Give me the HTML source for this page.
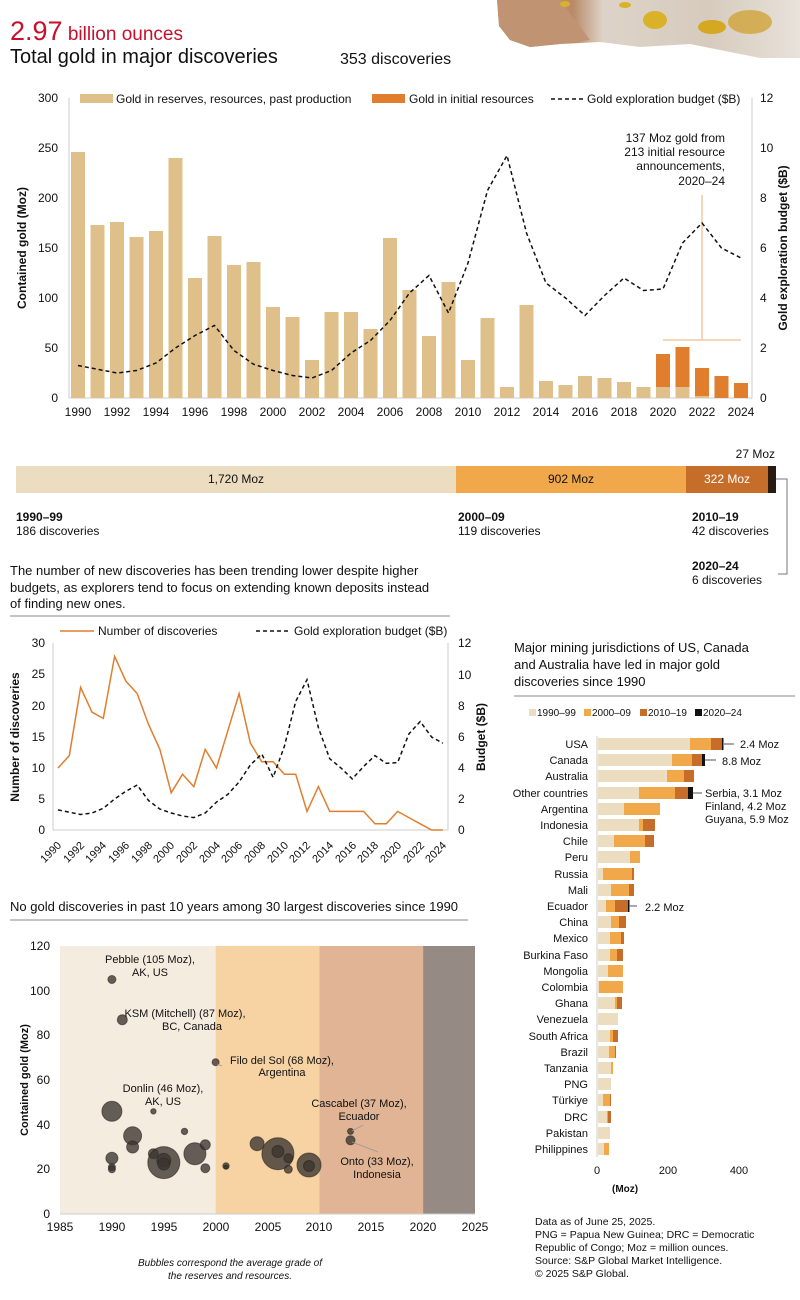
<!DOCTYPE html>
<html><head><meta charset="utf-8"><style>
body{margin:0;background:#fff}
svg{display:block;font-family:"Liberation Sans",sans-serif}
</style></head><body>
<svg width="800" height="1300" viewBox="0 0 800 1300" xmlns="http://www.w3.org/2000/svg">
<defs>
<linearGradient id="rk" x1="0" x2="1" y1="0" y2="0"><stop offset="0" stop-color="#c79d7a"/><stop offset="0.25" stop-color="#b98a68"/><stop offset="0.35" stop-color="#ddd3c8"/><stop offset="0.7" stop-color="#d6cbbd"/><stop offset="1" stop-color="#e8e2da"/></linearGradient>
</defs>
<!-- rock -->
<path d="M497 0 L800 0 L800 58 L760 58 L720 50 L690 44 L640 47 L600 42 L560 44 L530 47 L510 40 L499 26 Z" fill="url(#rk)"/>
<path d="M497 0 L560 0 L590 40 L560 44 L530 47 L510 40 L499 26Z" fill="#c09372"/>
<ellipse cx="655" cy="20" rx="12" ry="9" fill="#d9b22a"/>
<ellipse cx="712" cy="27" rx="14" ry="7" fill="#d4a820"/>
<ellipse cx="750" cy="22" rx="22" ry="12" fill="#cfa43a" opacity="0.8"/>
<ellipse cx="565" cy="4" rx="5" ry="3" fill="#d9b22a"/>
<ellipse cx="625" cy="5" rx="6" ry="3" fill="#d9b22a"/>
<!-- title -->
<text x="10" y="40" fill="#c8102e" font-size="27">2.97<tspan font-size="19"> billion ounces</tspan></text>
<text x="10" y="63" font-size="20" fill="#111">Total gold in major discoveries</text>
<text x="340" y="64" font-size="16" fill="#111">353 discoveries</text>

<!-- Chart 1 -->
<g font-size="12" fill="#111">
<line x1="69" y1="98" x2="69" y2="398" stroke="#ccc"/>
<line x1="752" y1="98" x2="752" y2="398" stroke="#ccc"/>
<line x1="69" y1="398" x2="752" y2="398" stroke="#ccc"/>
<g text-anchor="end"><text x="58" y="102">300</text><text x="58" y="152">250</text><text x="58" y="202">200</text><text x="58" y="252">150</text><text x="58" y="302">100</text><text x="58" y="352">50</text><text x="58" y="402">0</text></g>
<g><text x="760" y="102">12</text><text x="760" y="152">10</text><text x="760" y="202">8</text><text x="760" y="252">6</text><text x="760" y="302">4</text><text x="760" y="352">2</text><text x="760" y="402">0</text></g>
<text transform="translate(26,248) rotate(-90)" text-anchor="middle" font-weight="bold" font-size="12">Contained gold (Moz)</text>
<text transform="translate(787,248) rotate(-90)" text-anchor="middle" font-weight="bold" font-size="12">Gold exploration budget ($B)</text>
<g text-anchor="middle"><text x="78" y="416">1990</text><text x="117" y="416">1992</text><text x="156" y="416">1994</text><text x="195" y="416">1996</text><text x="234" y="416">1998</text><text x="273" y="416">2000</text><text x="312" y="416">2002</text><text x="351" y="416">2004</text><text x="390" y="416">2006</text><text x="429" y="416">2008</text><text x="468" y="416">2010</text><text x="507" y="416">2012</text><text x="546" y="416">2014</text><text x="585" y="416">2016</text><text x="624" y="416">2018</text><text x="663" y="416">2020</text><text x="702" y="416">2022</text><text x="741" y="416">2024</text></g>
</g>
<g fill="#dfc08a">
<rect x="71" y="152" width="14" height="246"/><rect x="90.5" y="225" width="14" height="173"/><rect x="110" y="222" width="14" height="176"/><rect x="129.5" y="237" width="14" height="161"/><rect x="149" y="231" width="14" height="167"/><rect x="168.5" y="158" width="14" height="240"/><rect x="188" y="278" width="14" height="120"/><rect x="207.5" y="236" width="14" height="162"/><rect x="227" y="265" width="14" height="133"/><rect x="246.5" y="262" width="14" height="136"/><rect x="266" y="307" width="14" height="91"/><rect x="285.5" y="317" width="14" height="81"/><rect x="305" y="360" width="14" height="38"/><rect x="324.5" y="312" width="14" height="86"/><rect x="344" y="312" width="14" height="86"/><rect x="363.5" y="329" width="14" height="69"/><rect x="383" y="238" width="14" height="160"/><rect x="402.5" y="290" width="14" height="108"/><rect x="422" y="336" width="14" height="62"/><rect x="441.5" y="282" width="14" height="116"/><rect x="461" y="360" width="14" height="38"/><rect x="480.5" y="318" width="14" height="80"/><rect x="500" y="387" width="14" height="11"/><rect x="519.5" y="305" width="14" height="93"/><rect x="539" y="381" width="14" height="17"/><rect x="558.5" y="385" width="14" height="13"/><rect x="578" y="376" width="14" height="22"/><rect x="597.5" y="378" width="14" height="20"/><rect x="617" y="382" width="14" height="16"/><rect x="636.5" y="387" width="14" height="11"/><rect x="656" y="387" width="14" height="11"/><rect x="675.5" y="387" width="14" height="11"/><rect x="695" y="396" width="14" height="2"/>
</g>
<g fill="#e07e2e">
<rect x="656" y="354" width="14" height="33"/><rect x="675.5" y="347" width="14" height="40"/><rect x="695" y="368" width="14" height="28"/><rect x="714.5" y="376" width="14" height="22"/><rect x="734" y="383" width="14" height="15"/>
</g>
<line x1="702" y1="195" x2="702" y2="340" stroke="#f3c9a0" stroke-width="1.5"/>
<line x1="663" y1="340" x2="741" y2="340" stroke="#f3c9a0" stroke-width="1.5"/>
<g font-size="12" text-anchor="end" fill="#111"><text x="725" y="142">137 Moz gold from</text><text x="725" y="156">213 initial resource</text><text x="725" y="170">announcements,</text><text x="725" y="185">2020–24</text></g>
<polyline fill="none" stroke="#111" stroke-width="1.5" stroke-dasharray="4,3" points="78,365.5 97.5,369.25 117,373 136.5,370.5 156,363 175.5,348 195,335.5 214.5,325.5 234,350.5 253.5,364.25 273,370.5 292.5,375.5 312,378 331.5,370.5 351,353 370.5,340.5 390,320.5 409.5,293 429,275.5 448.5,313 468,263 487.5,190.5 507,155.5 526.5,233 546,283 565.5,298 585,315.5 604.5,295.5 624,278 643.5,290.5 663,289 682.5,243 702,223 721.5,248 741,258"/>
<g font-size="12" fill="#111">
<rect x="80" y="94" width="33" height="9" fill="#dfc08a"/><text x="116" y="103">Gold in reserves, resources, past production</text>
<rect x="372" y="94" width="33" height="9" fill="#e07e2e"/><text x="409" y="103">Gold in initial resources</text>
<line x1="551" y1="99" x2="583" y2="99" stroke="#111" stroke-width="1.5" stroke-dasharray="4,3"/><text x="587" y="103">Gold exploration budget ($B)</text>
</g>

<!-- Horizontal stacked bar -->
<rect x="16" y="466" width="440" height="27" fill="#ecdcc0"/>
<rect x="456" y="466" width="230" height="27" fill="#f0a84a"/>
<rect x="686" y="466" width="82" height="27" fill="#c66d2a"/>
<rect x="768" y="466" width="8" height="27" fill="#2a1a10"/>
<g font-size="12" fill="#111">
<text x="236" y="483" text-anchor="middle">1,720 Moz</text>
<text x="571" y="483" text-anchor="middle">902 Moz</text>
<text x="727" y="483" text-anchor="middle" fill="#fff">322 Moz</text>
<text x="775" y="458" text-anchor="end">27 Moz</text>
<text x="16" y="521" font-weight="bold">1990–99</text><text x="16" y="535">186 discoveries</text>
<text x="458" y="521" font-weight="bold">2000–09</text><text x="458" y="535">119 discoveries</text>
<text x="692" y="521" font-weight="bold">2010–19</text><text x="692" y="535">42 discoveries</text>
<text x="692" y="570" font-weight="bold">2020–24</text><text x="692" y="584">6 discoveries</text>
</g>
<polyline points="776,479 787,479 787,574 778,574" fill="none" stroke="#777"/>

<!-- Chart 2 text -->
<g font-size="13" fill="#111"><text x="10" y="575">The number of new discoveries has been trending lower despite higher</text><text x="10" y="592">budgets, as explorers tend to focus on extending known deposits instead</text><text x="10" y="608">of finding new ones.</text></g>
<line x1="10" y1="616" x2="450" y2="616" stroke="#888"/>
<!-- Chart 2 -->
<line x1="53" y1="643" x2="53" y2="830" stroke="#ccc"/>
<line x1="448" y1="643" x2="448" y2="830" stroke="#ccc"/>
<line x1="53" y1="830" x2="448" y2="830" stroke="#ccc"/>
<g font-size="12" fill="#111">
<g text-anchor="end"><text x="45" y="647">30</text><text x="45" y="678">25</text><text x="45" y="710">20</text><text x="45" y="741">15</text><text x="45" y="772">10</text><text x="45" y="803">5</text><text x="45" y="834">0</text></g>
<g><text x="458" y="647">12</text><text x="458" y="679">10</text><text x="458" y="710">8</text><text x="458" y="741">6</text><text x="458" y="772">4</text><text x="458" y="803">2</text><text x="458" y="834">0</text></g>
<text transform="translate(19,737) rotate(-90)" text-anchor="middle" font-weight="bold">Number of discoveries</text>
<text transform="translate(485,737) rotate(-90)" text-anchor="middle" font-weight="bold">Budget ($B)</text>
<g font-size="11" text-anchor="end">
<text transform="translate(62,846) rotate(-45)">1990</text><text transform="translate(85,846) rotate(-45)">1992</text><text transform="translate(107,846) rotate(-45)">1994</text><text transform="translate(130,846) rotate(-45)">1996</text><text transform="translate(153,846) rotate(-45)">1998</text><text transform="translate(175,846) rotate(-45)">2000</text><text transform="translate(198,846) rotate(-45)">2002</text><text transform="translate(221,846) rotate(-45)">2004</text><text transform="translate(243,846) rotate(-45)">2006</text><text transform="translate(266,846) rotate(-45)">2008</text><text transform="translate(289,846) rotate(-45)">2010</text><text transform="translate(311,846) rotate(-45)">2012</text><text transform="translate(334,846) rotate(-45)">2014</text><text transform="translate(357,846) rotate(-45)">2016</text><text transform="translate(379,846) rotate(-45)">2018</text><text transform="translate(402,846) rotate(-45)">2020</text><text transform="translate(425,846) rotate(-45)">2022</text><text transform="translate(447,846) rotate(-45)">2024</text>
</g>
<line x1="60" y1="631" x2="94" y2="631" stroke="#e07e2e" stroke-width="1.5"/><text x="98" y="635">Number of discoveries</text>
<line x1="256" y1="631" x2="288" y2="631" stroke="#111" stroke-width="1.5" stroke-dasharray="4,3"/><text x="294" y="635">Gold exploration budget ($B)</text>
</g>
<polyline fill="none" stroke="#e07e2e" stroke-width="1.5" points="58,768 69.3,755.6 80.6,687.4 92,712.2 103.3,718.4 114.6,656.4 125.9,681.2 137.2,693.6 148.6,724.6 159.9,749.4 171.2,792.8 182.5,774.2 193.8,786.6 205.2,749.4 216.5,768 227.8,730.8 239.1,693.6 250.4,743.2 261.8,761.8 273.1,761.8 284.4,774.2 295.7,774.2 307,811.4 318.4,786.6 329.7,811.4 341,811.4 352.3,811.4 363.6,811.4 375,823.8 386.3,823.8 397.6,811.4 408.9,817.6 420.2,823.8 431.6,830 442.9,830"/>
<polyline fill="none" stroke="#111" stroke-width="1.5" stroke-dasharray="4,3" points="58,809.9 69.3,812.2 80.6,814.5 92,813 103.3,808.3 114.6,799 125.9,791.3 137.2,785 148.6,800.6 159.9,809.1 171.2,813 182.5,816 193.8,817.6 205.2,813 216.5,802.1 227.8,794.4 239.1,782 250.4,764.9 261.8,754 273.1,777.3 284.4,746.3 295.7,701.4 307,679.7 318.4,727.7 329.7,758.7 341,768 352.3,778.9 363.6,766.5 375,755.6 386.3,763.4 397.6,762.6 408.9,733.9 420.2,721.5 431.6,737 442.9,743.2"/>

<!-- Bubble chart -->
<text x="10" y="911" font-size="13" fill="#111">No gold discoveries in past 10 years among 30 largest discoveries since 1990</text>
<line x1="10" y1="920" x2="468" y2="920" stroke="#888"/>
<rect x="60" y="946" width="155.6" height="268" fill="#f5ece0"/>
<rect x="215.6" y="946" width="103.8" height="268" fill="#f7d3a3"/>
<rect x="319.4" y="946" width="103.7" height="268" fill="#e0b494"/>
<rect x="423.1" y="946" width="51.9" height="268" fill="#958b84"/>
<line x1="60" y1="1214" x2="475" y2="1214" stroke="#ccc"/>
<g fill="#3a3430" fill-opacity="0.78" stroke="#2a2420" stroke-opacity="0.6">
<circle cx="111.9" cy="979.5" r="4"/><circle cx="122.3" cy="1019.7" r="5"/><circle cx="215.6" cy="1062.2" r="3.5"/><circle cx="153.4" cy="1111.3" r="2.7"/><circle cx="111.9" cy="1111.3" r="10"/><circle cx="184.5" cy="1131.4" r="3.2"/><circle cx="132.6" cy="1135.8" r="9"/><circle cx="132.6" cy="1147" r="6"/><circle cx="111.9" cy="1158.2" r="6"/><circle cx="111.9" cy="1167.1" r="3.5"/><circle cx="111.9" cy="1169.3" r="3.5"/><circle cx="153.4" cy="1153.7" r="5"/><circle cx="163.8" cy="1162.6" r="16"/><circle cx="163.8" cy="1160.4" r="7"/><circle cx="163.8" cy="1164" r="6"/><circle cx="194.9" cy="1153.7" r="11"/><circle cx="205.3" cy="1144.8" r="5"/><circle cx="205.3" cy="1168.2" r="4.5"/><circle cx="226" cy="1166" r="3.2"/><circle cx="226" cy="1167" r="2"/><circle cx="257.1" cy="1143.7" r="7"/><circle cx="277.9" cy="1153.7" r="16"/><circle cx="277.9" cy="1151.5" r="6"/><circle cx="288.3" cy="1158.2" r="4.5"/><circle cx="288.3" cy="1169.3" r="4"/><circle cx="309" cy="1165" r="12"/><circle cx="309" cy="1166" r="5.5"/><circle cx="350.5" cy="1131.4" r="3"/><circle cx="350.5" cy="1140.3" r="4.5"/>
</g>
<g stroke="#999" stroke-width="0.8"><line x1="217" y1="1064" x2="222" y2="1066"/><line x1="352" y1="1131" x2="363" y2="1125"/><line x1="352" y1="1142" x2="378" y2="1152"/></g>
<g font-size="12" fill="#111">
<g text-anchor="end"><text x="50" y="950">120</text><text x="50" y="995">100</text><text x="50" y="1039">80</text><text x="50" y="1084">60</text><text x="50" y="1129">40</text><text x="50" y="1173">20</text><text x="50" y="1218">0</text></g>
<g text-anchor="middle"><text x="60" y="1231">1985</text><text x="112" y="1231">1990</text><text x="164" y="1231">1995</text><text x="216" y="1231">2000</text><text x="319" y="1231">2010</text><text x="268" y="1231">2005</text><text x="371" y="1231">2015</text><text x="423" y="1231">2020</text><text x="475" y="1231">2025</text></g>
<text transform="translate(28,1080) rotate(-90)" text-anchor="middle" font-weight="bold" font-size="11">Contained gold (Moz)</text>
<g font-size="11" text-anchor="middle">
<text x="150" y="963">Pebble (105 Moz),</text><text x="150" y="976">AK, US</text>
<text x="185" y="1017">KSM (Mitchell) (87 Moz),</text><text x="192" y="1030">BC, Canada</text>
<text x="282" y="1064">Filo del Sol (68 Moz),</text><text x="282" y="1076">Argentina</text>
<text x="163" y="1092">Donlin (46 Moz),</text><text x="163" y="1105">AK, US</text>
<text x="359" y="1107">Cascabel (37 Moz),</text><text x="359" y="1120">Ecuador</text>
<text x="377" y="1165">Onto (33 Moz),</text><text x="377" y="1178">Indonesia</text>
</g>
<g font-size="10" font-style="italic" text-anchor="middle"><text x="230" y="1266">Bubbles correspond the average grade of</text><text x="230" y="1279">the reserves and resources.</text></g>
</g>

<!-- Country chart -->
<g font-size="13" fill="#111"><text x="514" y="652">Major mining jurisdictions of US, Canada</text><text x="514" y="669">and Australia have led in major gold</text><text x="514" y="686">discoveries since 1990</text></g>
<line x1="514" y1="696" x2="795" y2="696" stroke="#888"/>
<g font-size="10" fill="#111">
<rect x="529" y="709" width="7" height="7" fill="#ecdcc0"/><text x="537" y="716">1990–99</text>
<rect x="584" y="709" width="7" height="7" fill="#f0a84a"/><text x="592" y="716">2000–09</text>
<rect x="640" y="709" width="7" height="7" fill="#c66d2a"/><text x="648" y="716">2010–19</text>
<rect x="695" y="709" width="7" height="7" fill="#111"/><text x="703" y="716">2020–24</text>
</g>
<line x1="597" y1="736" x2="597" y2="1157" stroke="#ccc"/>
<g font-size="11" fill="#111" text-anchor="end">
<text x="588" y="748">USA</text><text x="588" y="764">Canada</text><text x="588" y="780">Australia</text><text x="588" y="797">Other countries</text><text x="588" y="813">Argentina</text><text x="588" y="829">Indonesia</text><text x="588" y="845">Chile</text><text x="588" y="861">Peru</text><text x="588" y="878">Russia</text><text x="588" y="894">Mali</text><text x="588" y="910">Ecuador</text><text x="588" y="926">China</text><text x="588" y="942">Mexico</text><text x="588" y="959">Burkina Faso</text><text x="588" y="975">Mongolia</text><text x="588" y="991">Colombia</text><text x="588" y="1007">Ghana</text><text x="588" y="1023">Venezuela</text><text x="588" y="1040">South Africa</text><text x="588" y="1056">Brazil</text><text x="588" y="1072">Tanzania</text><text x="588" y="1088">PNG</text><text x="588" y="1104">Türkiye</text><text x="588" y="1121">DRC</text><text x="588" y="1137">Pakistan</text><text x="588" y="1153">Philippines</text>
</g>
<g fill="#ecdcc0">
<rect x="598" y="738" width="92" height="12"/><rect x="598" y="754" width="74" height="12"/><rect x="598" y="770" width="69" height="12"/><rect x="598" y="787" width="41" height="12"/><rect x="598" y="803" width="26" height="12"/><rect x="598" y="819" width="41" height="12"/><rect x="598" y="835" width="16" height="12"/><rect x="598" y="851" width="32" height="12"/><rect x="598" y="868" width="5" height="12"/><rect x="598" y="884" width="13" height="12"/><rect x="598" y="900" width="8" height="12"/><rect x="598" y="916" width="13" height="12"/><rect x="598" y="932" width="12" height="12"/><rect x="598" y="949" width="12" height="12"/><rect x="598" y="965" width="10" height="12"/><rect x="598" y="981" width="1" height="12"/><rect x="598" y="997" width="17" height="12"/><rect x="598" y="1013" width="20" height="12"/><rect x="598" y="1030" width="12" height="12"/><rect x="598" y="1046" width="11" height="12"/><rect x="598" y="1062" width="13" height="12"/><rect x="598" y="1078" width="13" height="12"/><rect x="598" y="1094" width="5" height="12"/><rect x="598" y="1111" width="9" height="12"/><rect x="598" y="1127" width="12" height="12"/><rect x="598" y="1143" width="6" height="12"/>
</g>
<g fill="#f0a84a">
<rect x="690" y="738" width="21" height="12"/><rect x="672" y="754" width="20" height="12"/><rect x="667" y="770" width="17" height="12"/><rect x="639" y="787" width="36" height="12"/><rect x="624" y="803" width="36" height="12"/><rect x="639" y="819" width="4" height="12"/><rect x="614" y="835" width="31" height="12"/><rect x="630" y="851" width="10" height="12"/><rect x="603" y="868" width="29" height="12"/><rect x="611" y="884" width="18" height="12"/><rect x="606" y="900" width="9" height="12"/><rect x="611" y="916" width="8" height="12"/><rect x="610" y="932" width="11" height="12"/><rect x="610" y="949" width="7" height="12"/><rect x="608" y="965" width="15" height="12"/><rect x="599" y="981" width="24" height="12"/><rect x="615" y="997" width="2" height="12"/><rect x="610" y="1030" width="3" height="12"/><rect x="609" y="1046" width="6" height="12"/><rect x="611" y="1062" width="2" height="12"/><rect x="603" y="1094" width="7" height="12"/><rect x="607" y="1111" width="1" height="12"/><rect x="604" y="1143" width="5" height="12"/>
</g>
<g fill="#c66d2a">
<rect x="711" y="738" width="11" height="12"/><rect x="692" y="754" width="10" height="12"/><rect x="684" y="770" width="10" height="12"/><rect x="675" y="787" width="13" height="12"/><rect x="643" y="819" width="12" height="12"/><rect x="645" y="835" width="9" height="12"/><rect x="632" y="868" width="2" height="12"/><rect x="629" y="884" width="5" height="12"/><rect x="615" y="900" width="13" height="12"/><rect x="619" y="916" width="7" height="12"/><rect x="621" y="932" width="3" height="12"/><rect x="617" y="949" width="6" height="12"/><rect x="617" y="997" width="5" height="12"/><rect x="613" y="1030" width="5" height="12"/><rect x="615" y="1046" width="1" height="12"/><rect x="610" y="1094" width="1" height="12"/><rect x="608" y="1111" width="3" height="12"/>
</g>
<g fill="#111"><rect x="722" y="738" width="1.5" height="12"/><rect x="702" y="754" width="3" height="12"/><rect x="688" y="787" width="5" height="12"/><rect x="628" y="900" width="1.5" height="12"/></g>
<g stroke="#555"><line x1="724" y1="744" x2="734" y2="744"/><line x1="705" y1="760" x2="716" y2="760"/><line x1="693" y1="793" x2="702" y2="793"/><line x1="629" y1="906" x2="637" y2="906"/></g>
<g font-size="11" fill="#111">
<text x="740" y="748">2.4 Moz</text><text x="722" y="765">8.8 Moz</text>
<text x="705" y="797">Serbia, 3.1 Moz</text><text x="705" y="810">Finland, 4.2 Moz</text><text x="705" y="823">Guyana, 5.9 Moz</text>
<text x="645" y="911">2.2 Moz</text>
<g text-anchor="middle"><text x="597" y="1174">0</text><text x="668" y="1174">200</text><text x="739" y="1174">400</text></g>
<text x="612" y="1192" font-weight="bold" font-size="10">(Moz)</text>
</g>
<g font-size="10.5" fill="#111"><text x="535" y="1225">Data as of June 25, 2025.</text><text x="535" y="1238">PNG = Papua New Guinea; DRC = Democratic</text><text x="535" y="1251">Republic of Congo; Moz = million ounces.</text><text x="535" y="1264">Source: S&amp;P Global Market Intelligence.</text><text x="535" y="1277">© 2025 S&amp;P Global.</text></g>
</svg>
</body></html>
